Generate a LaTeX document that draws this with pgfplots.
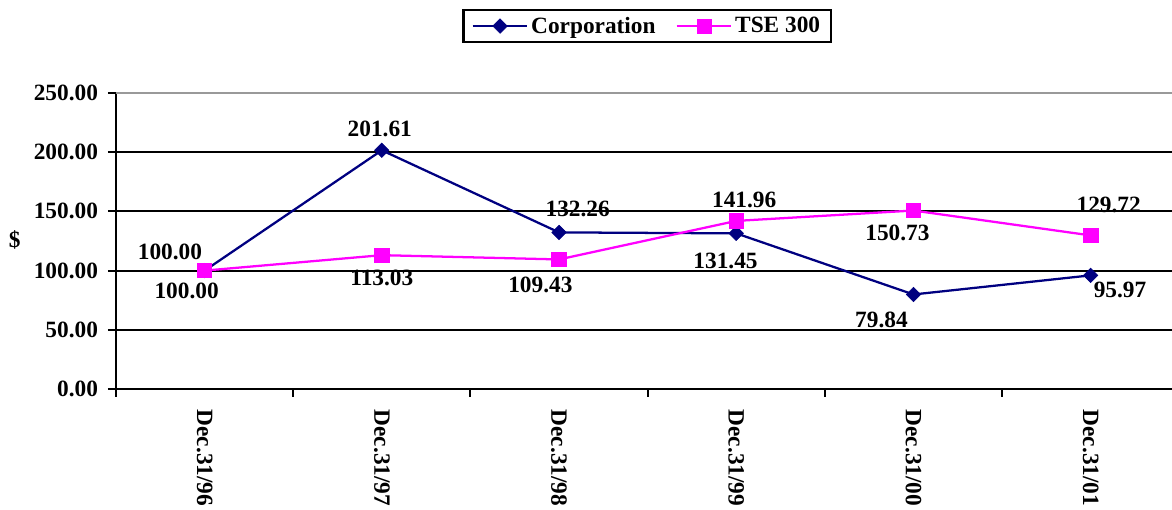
\documentclass[border=0pt]{standalone}
\usepackage{fontspec}
\setmainfont{Liberation Serif}
\usepackage{pgfplots}
\pgfplotsset{compat=1.18}
\definecolor{corp}{RGB}{0,0,128}
\definecolor{tse}{RGB}{255,0,255}
\newcommand{\lf}{\fontsize{17.5}{20}\selectfont\bfseries}
\begin{document}
\begin{tikzpicture}
\begin{axis}[
  at={(87pt,90.75pt)}, anchor=south west,
  scale only axis, width=792pt, height=222pt,
  xmin=-0.5, xmax=5.459, ymin=0, ymax=250,
  axis x line*=bottom, axis y line*=left,
  axis line style={black, line width=1.6pt},
  ytick={0,50,...,200},
  extra y ticks={250},
  extra y tick style={grid style={gray!80, line width=1.6pt}},
  ymajorgrids,
  grid style={black, line width=1.6pt},
  tick align=outside, major tick length=6pt,
  tick style={black, line width=1.6pt},
  yticklabel style={font=\lf, xshift=-4pt, /pgf/number format/.cd, fixed, fixed zerofill, precision=2, assume math mode=true},
  xtick={-0.5,0.5,1.5,2.5,3.5,4.5},
  xticklabels={,,,,,},
  extra x ticks={0,1,2,3,4,5},
  extra x tick labels={Dec.31/96,Dec.31/97,Dec.31/98,Dec.31/99,Dec.31/00,Dec.31/01},
  extra x tick style={major tick length=0pt, xticklabel style={font=\lf, yshift=-12pt, rotate=-90, anchor=west}},
  ylabel={\$},
  ylabel style={font=\lf, rotate=-90, at={(axis description cs:-0.096,0.503)}, anchor=center},
  legend columns=2,
  legend style={at={(axis description cs:0.503,1.226)}, anchor=center, draw=black, line width=1.6pt,
    font=\lf, inner xsep=6pt, inner ysep=3pt,
    /tikz/every even column/.append style={column sep=13pt}},
  legend image code/.code={\draw[mark repeat=2,mark phase=2,#1] plot coordinates {(0pt,0pt) (20.5pt,0pt) (41pt,0pt)};},
  clip=false,
]
\addplot[corp, line width=1.7pt, mark=square*, mark size=3.8pt, mark options={rotate=45, solid, fill=corp, line width=0.5pt}]
  coordinates {(0,100) (1,201.61) (2,132.26) (3,131.45) (4,79.84) (5,95.97)};
\addlegendentry{Corporation}
\addplot[tse, line width=1.7pt, mark=square*, mark size=5.4pt, mark options={solid, fill=tse, line width=0.5pt}]
  coordinates {(0,100) (1,113.03) (2,109.43) (3,141.96) (4,150.73) (5,129.72)};
\addlegendentry{TSE 300}
% Corporation labels
\node[font=\lf, xshift=-26pt, yshift=14pt] at (axis cs:0,100) {100.00};
\node[font=\lf, xshift=-1.5pt, yshift=16pt] at (axis cs:1,201.61) {201.61};
\node[font=\lf, xshift=14pt, yshift=17.6pt] at (axis cs:2,132.26) {132.26};
\node[font=\lf, xshift=-8pt, yshift=-20.6pt] at (axis cs:3,131.45) {131.45};
\node[font=\lf, xshift=-24pt, yshift=-19pt] at (axis cs:4,79.84) {79.84};
\node[font=\lf, xshift=22pt, yshift=-11pt] at (axis cs:5,95.97) {95.97};
% TSE labels
\node[font=\lf, xshift=-13.5pt, yshift=-15pt] at (axis cs:0,100) {100.00};
\node[font=\lf, xshift=0pt, yshift=-17pt] at (axis cs:1,113.03) {113.03};
\node[font=\lf, xshift=-14pt, yshift=-18.8pt] at (axis cs:2,109.43) {109.43};
\node[font=\lf, xshift=6pt, yshift=15.8pt] at (axis cs:3,141.96) {141.96};
\node[font=\lf, xshift=-12pt, yshift=-16.5pt] at (axis cs:4,150.73) {150.73};
\node[font=\lf, xshift=13.5pt, yshift=22.5pt] at (axis cs:5,129.72) {129.72};
\end{axis}
\pgfresetboundingbox
\useasboundingbox (0,0) rectangle (879pt,382.5pt);
\end{tikzpicture}
\end{document}
